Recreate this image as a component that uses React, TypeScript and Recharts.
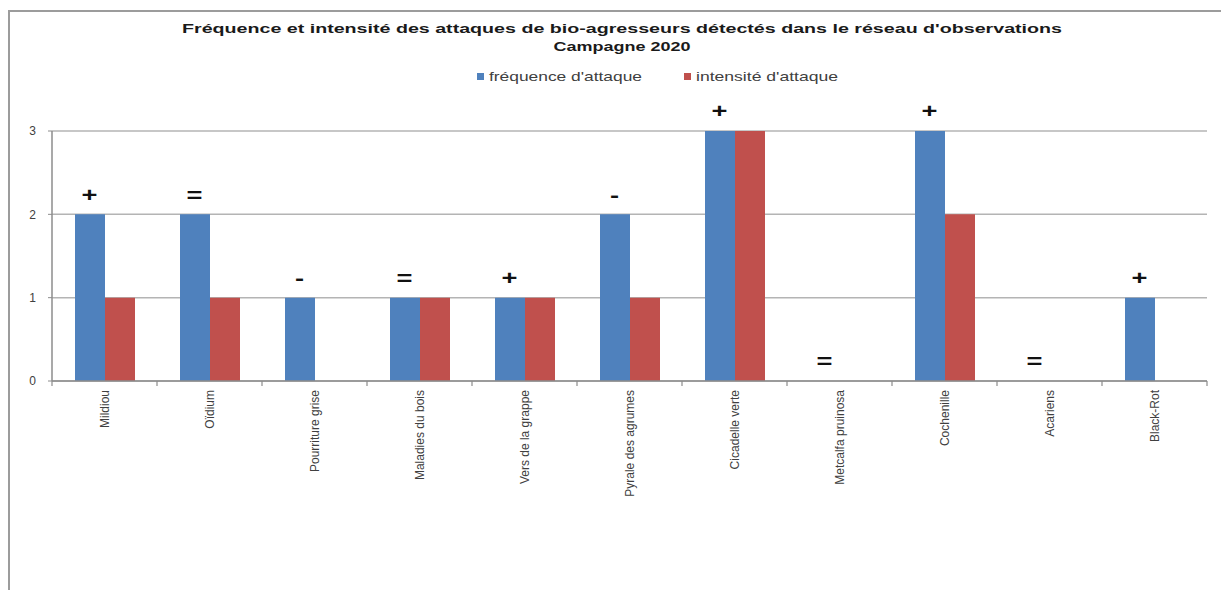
import React from "react";
import { ComposedChart, Bar, Line, XAxis, YAxis, CartesianGrid, LabelList } from "recharts";

document.body.style.margin = "0";

const categories = [
  "Mildiou",
  "Oïdium",
  "Pourriture grise",
  "Maladies du bois",
  "Vers de la grappe",
  "Pyrale des agrumes",
  "Cicadelle verte",
  "Metcalfa pruinosa",
  "Cochenille",
  "Acariens",
  "Black-Rot",
];
const frequence = [2, 2, 1, 1, 1, 2, 3, 0, 3, 0, 1];
const intensite = [1, 1, 0, 1, 1, 1, 3, 0, 2, 0, 0];
const tendance = ["+", "=", "-", "=", "+", "-", "+", "=", "+", "=", "+"];
const yTicks = [0, 1, 2, 3];

const data = categories.map((name, i) => ({
  name,
  frequence: frequence[i],
  intensite: intensite[i],
  tendance: tendance[i],
}));

const BLUE = "#4f81bd";
const RED = "#c0504d";
const TEXT = "#404040";
const AXIS = "#8c8c8c";
const BAR_SIZE = 30;

// category label plus the small Excel-style tick marks on the band boundaries
function CategoryTick({ x, y, payload, index }: any) {
  const half = payload?.offset ?? 0;
  const axisY = y - 8;
  const isLast = index === categories.length - 1;
  return (
    <g>
      {half > 0 && (
        <line x1={x - half} x2={x - half} y1={axisY} y2={axisY + 5} stroke={AXIS} strokeWidth={1.2} />
      )}
      {half > 0 && isLast && (
        <line x1={x + half} x2={x + half} y1={axisY} y2={axisY + 5} stroke={AXIS} strokeWidth={1.2} />
      )}
      <text
        x={x}
        y={y + 1}
        transform={`rotate(-90 ${x} ${y + 1})`}
        textAnchor="end"
        dominantBaseline="central"
        fontFamily="Liberation Sans, Arial, sans-serif"
        fontSize={12}
        fill={TEXT}
      >
        {payload.value}
      </text>
    </g>
  );
}

// trend sign sits above the blue (fréquence) bar, i.e. half a bar left of the category centre
function TrendLabel({ x, y, value }: any) {
  const cx = x - BAR_SIZE / 2;
  const cy = y - 20;
  return (
    <text
      x={cx}
      y={cy}
      transform={`translate(${cx} ${cy}) scale(1.3 1) translate(${-cx} ${-cy})`}
      textAnchor="middle"
      dominantBaseline="central"
      fontFamily="Liberation Sans, Arial, sans-serif"
      fontWeight="bold"
      fontSize={21}
      fill="#111"
    >
      {value}
    </text>
  );
}

export default function App() {
  return (
    <div style={{ position: "relative", width: 1221, height: 590, background: "#fff", overflow: "hidden" }}>
      <div
        style={{
          position: "absolute",
          left: 8,
          top: 10,
          width: 1220,
          height: 590,
          borderTop: "2px solid #9c9c9c",
          borderLeft: "2px solid #9c9c9c",
        }}
      />
      <ComposedChart
        width={1221}
        height={590}
        data={data}
        margin={{ top: 131, right: 14, left: 22, bottom: 0 }}
        barGap={0}
        barSize={BAR_SIZE}
      >
        <CartesianGrid vertical={false} stroke="#b4b4b4" strokeWidth={1.5} />
        <XAxis
          dataKey="name"
          interval={0}
          height={209}
          tickLine={false}
          axisLine={{ stroke: AXIS, strokeWidth: 1.5 }}
          tick={<CategoryTick />}
        />
        <YAxis
          width={30}
          domain={[0, 3]}
          ticks={yTicks}
          tickSize={4}
          tickMargin={12}
          axisLine={{ stroke: AXIS, strokeWidth: 1.5 }}
          tickLine={{ stroke: AXIS }}
          tick={{ fontSize: 12, fill: TEXT, fontFamily: "Liberation Sans, Arial, sans-serif" }}
        />
        <Bar dataKey="frequence" fill={BLUE} isAnimationActive={false} />
        <Bar dataKey="intensite" fill={RED} isAnimationActive={false} />
        <Line
          dataKey="frequence"
          stroke="none"
          dot={false}
          activeDot={false}
          legendType="none"
          isAnimationActive={false}
        >
          <LabelList dataKey="tendance" content={<TrendLabel />} />
        </Line>
      </ComposedChart>
      <svg
        width={1221}
        height={100}
        style={{ position: "absolute", left: 0, top: 0, pointerEvents: "none" }}
        fontFamily="Liberation Sans, Arial, sans-serif"
      >
        <text x={622} y={33} textAnchor="middle" fontWeight="bold" fontSize={13.5} fill="#1a1a1a" textLength={880} lengthAdjust="spacingAndGlyphs">
          Fréquence et intensité des attaques de bio-agresseurs détectés dans le réseau d'observations
        </text>
        <text x={622} y={51} textAnchor="middle" fontWeight="bold" fontSize={13.5} fill="#1a1a1a" textLength={137} lengthAdjust="spacingAndGlyphs">
          Campagne 2020
        </text>
        <rect x={477} y={73} width={7} height={7} fill={BLUE} />
        <text x={489} y={81} fontSize={13} fill={TEXT} textLength={153} lengthAdjust="spacingAndGlyphs">
          fréquence d'attaque
        </text>
        <rect x={684} y={73} width={7} height={7} fill={RED} />
        <text x={696} y={81} fontSize={13} fill={TEXT} textLength={142} lengthAdjust="spacingAndGlyphs">
          intensité d'attaque
        </text>
      </svg>
    </div>
  );
}
